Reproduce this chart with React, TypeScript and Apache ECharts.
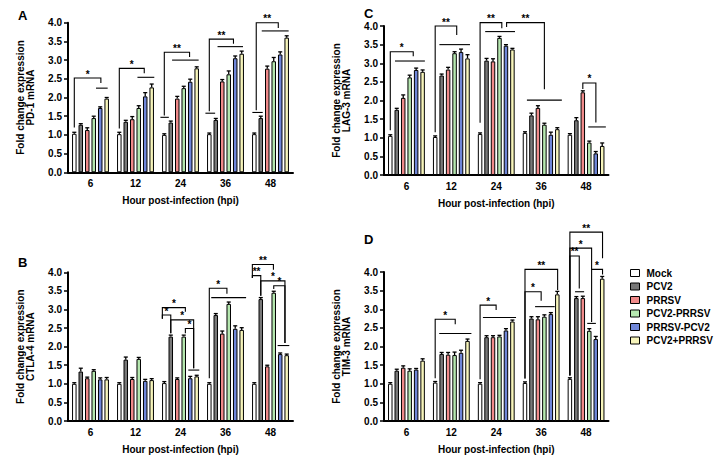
import React, { useEffect, useRef } from "react";
import * as echarts from "echarts";

const FONT = "'Liberation Sans', Arial, sans-serif";

const categories = ["6", "12", "24", "36", "48"];
const groups = ["Mock", "PCV2", "PRRSV", "PCV2-PRRSV", "PRRSV-PCV2", "PCV2+PRRSV"];
const groupColors = ["#ffffff", "#787878", "#f08a8a", "#b6e8b0", "#6f86d8", "#f7f5bb"];

// Panel A: PD-1 (rows = groups, columns = categories)
const pd1Values = [
  [1.03, 1.02, 1.0, 1.02, 1.02],
  [1.27, 1.35, 1.33, 1.4, 1.45],
  [1.13, 1.42, 1.97, 2.43, 2.77],
  [1.45, 1.72, 2.25, 2.62, 2.97],
  [1.72, 2.03, 2.42, 3.05, 3.15],
  [1.97, 2.27, 2.78, 3.17, 3.6],
];
const pd1Errors = [
  [0.04, 0.05, 0.03, 0.03, 0.03],
  [0.03, 0.04, 0.04, 0.04, 0.05],
  [0.06, 0.07, 0.06, 0.05, 0.07],
  [0.05, 0.06, 0.05, 0.09, 0.1],
  [0.03, 0.1, 0.07, 0.06, 0.07],
  [0.03, 0.09, 0.04, 0.07, 0.05],
];

// Panel B: CTLA-4
const ctla4Values = [
  [1.0, 1.0, 1.02, 1.0, 1.0],
  [1.33, 1.65, 2.27, 2.85, 3.28],
  [1.15, 1.13, 1.13, 2.35, 1.47],
  [1.35, 1.67, 2.27, 3.15, 3.45],
  [1.12, 1.08, 1.15, 2.48, 1.8],
  [1.12, 1.1, 1.2, 2.45, 1.77],
];
const ctla4Errors = [
  [0.03, 0.03, 0.04, 0.03, 0.03],
  [0.09, 0.07, 0.04, 0.04, 0.04],
  [0.03, 0.04, 0.03, 0.07, 0.03],
  [0.03, 0.04, 0.04, 0.05, 0.04],
  [0.04, 0.04, 0.05, 0.08, 0.03],
  [0.05, 0.04, 0.03, 0.06, 0.03],
];

// Panel C: LAG-3
const lag3Values = [
  [1.05, 1.02, 1.1, 1.13, 1.08],
  [1.75, 2.67, 3.07, 1.6, 1.47],
  [2.07, 2.83, 3.05, 1.8, 2.22],
  [2.62, 3.27, 3.68, 1.35, 0.87],
  [2.82, 3.3, 3.47, 1.08, 0.58],
  [2.77, 3.13, 3.37, 1.23, 0.78],
];
const lag3Errors = [
  [0.03, 0.03, 0.03, 0.03, 0.03],
  [0.04, 0.04, 0.06, 0.06, 0.07],
  [0.08, 0.06, 0.07, 0.06, 0.04],
  [0.06, 0.04, 0.04, 0.04, 0.04],
  [0.05, 0.08, 0.03, 0.07, 0.05],
  [0.05, 0.1, 0.03, 0.04, 0.08],
];

// Panel D: TIM-3
const tim3Values = [
  [1.0, 1.03, 1.0, 1.02, 1.13],
  [1.35, 1.8, 2.25, 2.75, 3.3],
  [1.43, 1.78, 2.25, 2.73, 3.3],
  [1.35, 1.77, 2.27, 2.8, 2.42],
  [1.38, 1.83, 2.43, 2.87, 2.2],
  [1.62, 2.15, 2.67, 3.4, 3.82],
];
const tim3Errors = [
  [0.03, 0.03, 0.03, 0.03, 0.03],
  [0.04, 0.04, 0.04, 0.05, 0.04],
  [0.05, 0.06, 0.04, 0.07, 0.05],
  [0.05, 0.08, 0.03, 0.05, 0.06],
  [0.03, 0.07, 0.05, 0.04, 0.07],
  [0.05, 0.05, 0.04, 0.08, 0.06],
];

// Significance brackets: [cat1, barPos1, legBottom1, cat2, barPos2, legBottom2, top, label]
const pd1Brackets = [
  [0, 0, 1.2, 0, 4.1, 2.39, 2.52, "*"],
  [1, 0, 1.17, 1, 3.85, 2.65, 2.78, "*"],
  [2, 0, 1.52, 2, 3.9, 3.08, 3.21, "**"],
  [3, 0, 1.63, 3, 3.73, 3.44, 3.56, "**"],
  [4, 0.3, 1.66, 4, 3.7, 3.86, 4.0, "**"],
];
// Group lines: [cat, barPosFrom, barPosTo, value]
const pd1Lines = [
  [0, 3.35, 5.15, 2.25],
  [1, 2.8, 5.4, 2.54],
  [2, -0.6, 0.7, 1.47],
  [2, 1.2, 5.3, 3.0],
  [3, -0.6, 0.9, 1.58],
  [3, 1.27, 5.2, 3.36],
  [4, -0.3, 1.3, 1.6],
  [4, 1.15, 5.3, 3.78],
];

const ctla4Brackets = [
  [2, -0.3, 2.75, 2, 3.25, 2.94, 3.05, "*"],
  [2, -0.3, 2.75, 2, 1, 2.36, 2.85, "*"],
  [2, 1, 2.36, 2, 4.53, 1.42, 2.72, "*"],
  [2, 3.25, 2.36, 2, 4.53, 1.42, 2.49, "*"],
  [3, 0, 1.15, 3, 2.72, 3.42, 3.57, "*"],
  [4, -0.3, 3.85, 4, 2.95, 4.07, 4.21, "**"],
  [4, -0.3, 3.85, 4, 1, 3.37, 3.91, "**"],
  [4, 1, 3.37, 4, 4.73, 2.1, 3.77, "*"],
  [4, 3, 3.55, 4, 4.73, 2.1, 3.64, "*"],
];
const ctla4Lines = [
  [2, 3.7, 5.4, 1.37],
  [3, 0.3, 5.68, 3.32],
  [4, 3.6, 5.4, 2.03],
];

const lag3Brackets = [
  [0, 0, 1.2, 0, 3.55, 3.19, 3.31, "*"],
  [1, 0, 1.15, 1, 3.33, 3.76, 4.0, "**"],
  [2, 0, 1.4, 2, 3.36, 3.94, 4.09, "**"],
  [2, 4.1, 3.97, 3, 3.0, 2.3, 4.09, "**"],
  [4, 2, 2.31, 4, 4.02, 1.41, 2.47, "*"],
];
const lag3Lines = [
  [0, 0.73, 5.35, 3.06],
  [1, 0.65, 5.38, 3.5],
  [2, 0.79, 5.4, 3.85],
  [3, 0.3, 5.7, 2.01],
  [4, 2.84, 5.56, 1.29],
];

const tim3Brackets = [
  [1, 0, 1.15, 1, 3.1, 2.6, 2.73, "*"],
  [2, 0, 1.12, 2, 2.48, 2.98, 3.11, "*"],
  [3, 0, 1.14, 3, 5.05, 3.52, 4.07, "**"],
  [3, 0, 1.14, 3, 2.5, 3.23, 3.47, "*"],
  [4, 0, 1.22, 4, 5.05, 4.37, 5.07, "**"],
  [4, 0, 1.22, 4, 3.36, 2.66, 4.64, "*"],
  [4, 0, 1.22, 4, 1.45, 3.56, 4.43, "**"],
  [4, 3.36, 4.07, 4, 5.05, 3.93, 4.07, "*"],
];
const tim3Lines = [
  [1, 0.62, 5.6, 2.35],
  [2, 0.44, 5.56, 2.78],
  [3, 1.56, 4.6, 3.07],
  [4, 2.68, 4.02, 2.62],
  [4, 0.8, 2.2, 3.47],
];

const yTicks = { min: 0, max: 4, interval: 0.5 };

const panels = [
  { letter: "A", gene: "PD-1 mRNA", values: pd1Values, errors: pd1Errors, brackets: pd1Brackets, lines: pd1Lines, grid: { left: 68, top: 22.7, width: 225, height: 149.6 }, lx: 18, ly: 9 },
  { letter: "B", gene: "CTLA-4 mRNA", values: ctla4Values, errors: ctla4Errors, brackets: ctla4Brackets, lines: ctla4Lines, grid: { left: 68, top: 272.3, width: 225, height: 148.7 }, lx: 18, ly: 256 },
  { letter: "C", gene: "LAG-3 mRNA", values: lag3Values, errors: lag3Errors, brackets: lag3Brackets, lines: lag3Lines, grid: { left: 384, top: 26, width: 224.5, height: 149 }, lx: 364, ly: 7 },
  { letter: "D", gene: "TIM-3 mRNA", values: tim3Values, errors: tim3Errors, brackets: tim3Brackets, lines: tim3Lines, grid: { left: 384, top: 272, width: 224.5, height: 149 }, lx: 364, ly: 233 },
];

const CAT_GAP = 0.18;
const BAR_GAP = 0.44;
const N = groups.length;

function barOffset(band: number, f: number) {
  const usable = band * (1 - CAT_GAP);
  const bw = usable / (N + (N - 1) * BAR_GAP);
  return -usable / 2 + bw / 2 + f * bw * (1 + BAR_GAP);
}
function barWidthOf(band: number) {
  const usable = band * (1 - CAT_GAP);
  return usable / (N + (N - 1) * BAR_GAP);
}

function buildOption() {
  const grid: any[] = [];
  const xAxis: any[] = [];
  const yAxis: any[] = [];
  const series: any[] = [];
  const graphic: any[] = [];
  const labelStyle = { fontSize: 10, fontWeight: "bold", color: "#000", fontFamily: FONT };

  panels.forEach((p, k) => {
    grid.push({ ...p.grid, containLabel: false });
    xAxis.push({
      type: "category",
      gridIndex: k,
      data: categories,
      axisLine: { lineStyle: { color: "#000", width: 2 } },
      axisTick: { alignWithLabel: true, length: 4, lineStyle: { color: "#000", width: 1.5 } },
      axisLabel: { ...labelStyle, margin: 6 },
      name: "Hour post-infection (hpi)",
      nameLocation: "middle",
      nameGap: 23,
      nameTextStyle: { ...labelStyle, fontSize: 10 },
    });
    yAxis.push({
      type: "value",
      gridIndex: k,
      ...yTicks,
      axisLine: { show: true, lineStyle: { color: "#000", width: 2 } },
      axisTick: { show: true, length: 4, lineStyle: { color: "#000", width: 1.5 } },
      splitLine: { show: false },
      axisLabel: { ...labelStyle, margin: 6, formatter: (v: number) => v.toFixed(1) },
      name: "Fold change expression\n" + p.gene,
      nameLocation: "middle",
      nameRotate: 90,
      nameGap: 33,
      nameTextStyle: { ...labelStyle, lineHeight: 10 },
    });

    groups.forEach((g, i) => {
      series.push({
        type: "bar",
        name: g,
        xAxisIndex: k,
        yAxisIndex: k,
        data: p.values[i],
        barGap: "44%",
        barCategoryGap: "18%",
        itemStyle: { color: groupColors[i], borderColor: "#000", borderWidth: 1 },
        emphasis: { disabled: true },
        z: 2,
      });
    });

    const errData: number[][] = [];
    groups.forEach((_, i) => {
      categories.forEach((_c, c) => {
        errData.push([c, p.values[i][c], p.errors[i][c], i]);
      });
    });
    series.push({
      type: "custom",
      name: "err" + p.letter,
      xAxisIndex: k,
      yAxisIndex: k,
      data: errData,
      encode: { x: 0, y: 1 },
      clip: false,
      z: 3,
      silent: true,
      renderItem: (params: any, api: any) => {
        const c = api.value(0);
        const v = api.value(1);
        const e = api.value(2);
        const i = api.value(3);
        const band = api.size([1, 0])[0];
        const base = api.coord([c, v]);
        const top = api.coord([c, v + e]);
        const x = base[0] + barOffset(band, i);
        const cap = barWidthOf(band) * 0.45;
        const st = { stroke: "#000", lineWidth: 1.3 };
        return {
          type: "group",
          children: [
            { type: "line", shape: { x1: x, y1: base[1], x2: x, y2: top[1] }, style: st },
            { type: "line", shape: { x1: x - cap, y1: top[1], x2: x + cap, y2: top[1] }, style: st },
          ],
        };
      },
    });

    const brackets = p.brackets;
    series.push({
      type: "custom",
      name: "sig" + p.letter,
      xAxisIndex: k,
      yAxisIndex: k,
      data: brackets.map((b: any) => [b[0], b[6]]),
      encode: { x: 0, y: 1 },
      clip: false,
      z: 4,
      silent: true,
      renderItem: (params: any, api: any) => {
        const b: any = brackets[params.dataIndex];
        const band = api.size([1, 0])[0];
        const pt = (c: number, f: number, v: number) => {
          const q = api.coord([c, v]);
          return [q[0] + barOffset(band, f), q[1]];
        };
        const a1 = pt(b[0], b[1], b[2]);
        const t1 = pt(b[0], b[1], b[6]);
        const t2 = pt(b[3], b[4], b[6]);
        const a2 = pt(b[3], b[4], b[5]);
        return {
          type: "group",
          children: [
            {
              type: "polyline",
              shape: { points: [a1, t1, t2, a2] },
              style: { stroke: "#000", lineWidth: 1.1, fill: null },
            },
            {
              type: "text",
              x: (t1[0] + t2[0]) / 2,
              y: t1[1] + 1,
              style: {
                text: b[7],
                fill: "#000",
                fontSize: 10,
                fontWeight: "bold",
                fontFamily: FONT,
                align: "center",
                verticalAlign: "bottom",
              },
            },
          ],
        };
      },
    });

    const lines = p.lines;
    series.push({
      type: "custom",
      name: "grp" + p.letter,
      xAxisIndex: k,
      yAxisIndex: k,
      data: lines.map((l: any) => [l[0], l[3]]),
      encode: { x: 0, y: 1 },
      clip: false,
      z: 4,
      silent: true,
      renderItem: (params: any, api: any) => {
        const l: any = lines[params.dataIndex];
        const band = api.size([1, 0])[0];
        const q = api.coord([l[0], l[3]]);
        return {
          type: "line",
          shape: { x1: q[0] + barOffset(band, l[1]), y1: q[1], x2: q[0] + barOffset(band, l[2]), y2: q[1] },
          style: { stroke: "#000", lineWidth: 1.1 },
        };
      },
    });

    graphic.push({
      type: "text",
      x: p.lx,
      y: p.ly,
      style: { text: p.letter, fontSize: 13, fontWeight: "bold", fontFamily: FONT, fill: "#000" },
    });
  });

  return {
    animation: false,
    backgroundColor: "#ffffff",
    grid,
    xAxis,
    yAxis,
    series,
    graphic,
    legend: {
      data: groups,
      orient: "vertical",
      left: 625,
      top: 263,
      icon: "rect",
      itemWidth: 9,
      itemHeight: 7,
      itemGap: 3.5,
      selectedMode: false,
      textStyle: { fontSize: 10, fontWeight: "bold", color: "#000", fontFamily: FONT, padding: [0, 0, 0, 2] },
      itemStyle: { borderColor: "#000", borderWidth: 1 },
    },
  };
}

export default function App() {
  const ref = useRef<HTMLDivElement>(null);
  useEffect(() => {
    if (!ref.current) return;
    const chart = echarts.init(ref.current, undefined, { renderer: "svg" });
    chart.setOption(buildOption() as any);
    return () => chart.dispose();
  }, []);
  return (
    <div
      ref={ref}
      style={{ position: "fixed", left: 0, top: 0, width: 717, height: 465, background: "#fff" }}
    />
  );
}
